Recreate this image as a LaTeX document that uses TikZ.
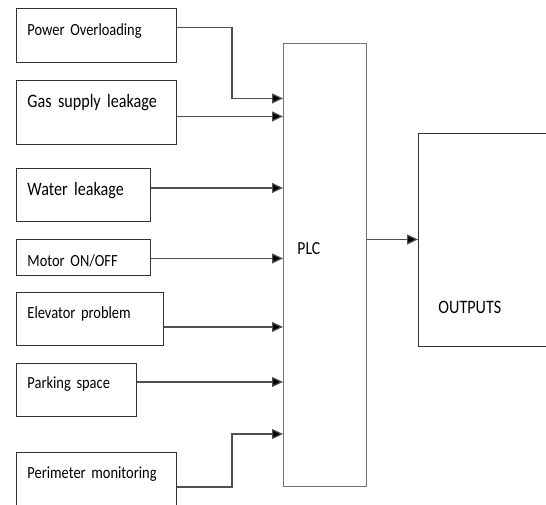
\documentclass[tikz,border=0pt]{standalone}
\usepackage{fontspec}
\setmainfont{Carlito}[FakeStretch=0.85,WordSpace=0.8]
\usetikzlibrary{arrows.meta,calc,positioning}
\definecolor{LineGray}{RGB}{80,80,80}
\definecolor{EdgeGray}{RGB}{50,50,50}

\begin{document}
\begin{tikzpicture}[x=1pt,y=-1pt,
  inbox/.style={rectangle,draw=EdgeGray,line width=0.9pt,anchor=north west,align=left,
    inner xsep=11pt,inner ysep=0pt,text height=27pt,font=\fontsize{17}{20}\selectfont},
  arr/.style={draw=LineGray,line width=1.2pt,-{Triangle[length=11pt,width=10pt,fill=black]}}
]
  \useasboundingbox (0,0) rectangle (546,504);
  \clip (0,0) rectangle (546,504);
  % sensor inputs
  \node[inbox,minimum width=160pt,text width=138pt,text depth=27pt] (pow) at (16,8) {Power Overloading};
  \node[inbox,minimum width=160pt,text width=138pt,text depth=37pt,font=\fontsize{19}{22}\selectfont] (gas) at (16,80) {Gas supply leakage};
  \node[inbox,minimum width=134pt,text width=112pt,text depth=26pt,font=\fontsize{19}{22}\selectfont] (wat) at (16,168) {Water leakage};
  \node[inbox,minimum width=134pt,text width=112pt,text depth=9pt] (mot) at (16,239) {Motor ON/OFF};
  \node[inbox,minimum width=147pt,text width=125pt,text depth=27pt,text height=26pt] (elv) at (16,292) {Elevator problem};
  \node[inbox,minimum width=120pt,text width=98pt,text depth=28pt,text height=25pt] (park) at (16,363) {Parking space};
  \node[inbox,minimum width=160pt,text width=138pt,text depth=40pt,text height=26pt] (peri) at (16,452) {Perimeter monitoring};
  % controller and outputs
  \node[rectangle,draw=LineGray!80,line width=0.9pt,anchor=north west,align=left,inner xsep=14pt,inner ysep=0pt,
    minimum width=83pt,text width=55pt,text height=211pt,text depth=232pt,font=\fontsize{18.4}{21}\selectfont] (plc) at (283,43) {PLC};
  \node[rectangle,draw=EdgeGray,line width=0.9pt,anchor=north west,align=left,inner xsep=19pt,inner ysep=0pt,
    minimum width=160pt,text width=120pt,text height=180pt,text depth=33pt,font=\fontsize{19}{22}\selectfont] (out) at (418,133) {OUTPUTS};
  % connector start points
  \coordinate (p-out) at ([yshift=8pt]pow.east);
  \coordinate (g-out) at ([yshift=-4pt]gas.east);
  \coordinate (w-out) at ([yshift=7pt]wat.east);
  \coordinate (m-out) at ([yshift=-1pt]mot.east);
  \coordinate (e-out) at ([yshift=-8pt]elv.east);
  \coordinate (k-out) at ([yshift=8pt]park.east);
  \coordinate (r-out) at (peri.east |- 0,487);
  \coordinate (p-in) at ([yshift=18pt]g-out -| plc.west);
  \coordinate (r-in) at (plc.west |- 0,434);
  \draw[arr] (p-out) -- ++(55,0) |- (p-in);
  \draw[arr] (g-out) -- (g-out -| plc.west);
  \draw[arr] (w-out) -- (w-out -| plc.west);
  \draw[arr] (m-out) -- (m-out -| plc.west);
  \draw[arr] (e-out) -- (e-out -| plc.west);
  \draw[arr] (k-out) -- (k-out -| plc.west);
  \draw[arr] (r-out) -- ++(55,0) |- (r-in);
  \draw[arr] ([yshift=25.5pt]plc.east) -- ([yshift=25.5pt]plc.east -| out.west);
\end{tikzpicture}
\end{document}
